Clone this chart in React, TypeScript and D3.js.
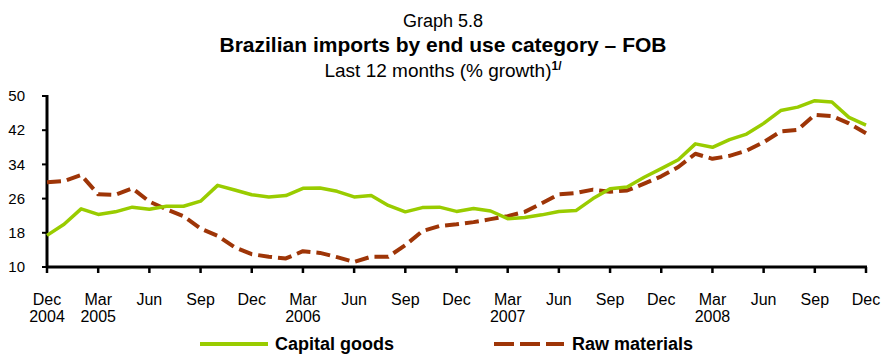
import React from "react";
import * as d3 from "d3";

const months: string[] = [];
{
  const names = ["Jan","Feb","Mar","Apr","May","Jun","Jul","Aug","Sep","Oct","Nov","Dec"];
  // Dec 2004 .. Dec 2008
  for (let i = 0; i < 49; i++) {
    const m = (11 + i) % 12;
    const y = 2004 + Math.floor((11 + i) / 12);
    months.push(`${names[m]} ${y}`);
  }
}

const capitalGoods = [
  17.4, 20.0, 23.6, 22.3, 22.9, 24.0, 23.5, 24.2, 24.2, 25.4, 29.1, 28.0,
  26.9, 26.4, 26.7, 28.4, 28.5, 27.7, 26.4, 26.7, 24.4, 22.9, 23.9, 24.0,
  23.0, 23.7, 23.1, 21.3, 21.6, 22.2, 23.0, 23.2, 26.0, 28.3, 28.7, 31.0,
  33.0, 35.1, 38.8, 38.0, 39.8, 41.1, 43.6, 46.6, 47.4, 48.9, 48.6, 45.0,
  43.2,
];

const rawMaterials = [
  29.8, 30.1, 31.5, 27.0, 26.9, 28.4, 25.3, 23.5, 21.9, 19.0, 17.3, 14.6,
  13.0, 12.4, 12.0, 13.7, 13.3, 12.3, 11.2, 12.4, 12.4, 15.1, 18.4, 19.6,
  20.0, 20.5, 21.2, 21.9, 22.9, 24.9, 27.0, 27.3, 28.1, 27.6, 27.9, 29.5,
  31.2, 33.4, 36.5, 35.3, 36.0, 37.2, 39.2, 41.7, 42.1, 45.6, 45.3, 43.6,
  41.3,
];

const yTicks = [10, 18, 26, 34, 42, 50];
const xTickLabels: [string, string][] = [
  ["Dec", "2004"], ["Mar", "2005"], ["Jun", ""], ["Sep", ""],
  ["Dec", ""], ["Mar", "2006"], ["Jun", ""], ["Sep", ""],
  ["Dec", ""], ["Mar", "2007"], ["Jun", ""], ["Sep", ""],
  ["Dec", ""], ["Mar", "2008"], ["Jun", ""], ["Sep", ""],
  ["Dec", ""],
];

const GREEN = "#99CC00";
const BROWN = "#9E3507";
const FONT = "'Liberation Sans', Arial, sans-serif";

export default function App() {
  const W = 882, H = 355;
  const x0 = 47, x1 = 866, yTop = 96, yBot = 267;
  const x = d3.scaleLinear().domain([0, months.length - 1]).range([x0, x1]);
  const y = d3.scaleLinear().domain([10, 50]).range([yBot, yTop]);
  const line = d3.line<number>().x((_, i) => x(i)).y((d) => y(d));

  return (
    <svg width={W} height={H} style={{ position: "absolute", left: 0, top: 0 }} fontFamily={FONT}>
      <rect width={W} height={H} fill="#fff" />
      <text x={443} y={27} textAnchor="middle" fontSize={18}>Graph 5.8</text>
      <text x={443} y={52} textAnchor="middle" fontSize={21} fontWeight="bold">
        Brazilian imports by end use category – FOB
      </text>
      <text x={443} y={77} textAnchor="middle" fontSize={19}>
        Last 12 months (% growth)
        <tspan fontSize={12} fontWeight="bold" dy={-7}>1/</tspan>
      </text>

      {/* y axis */}
      {yTicks.map((t) => (
        <g key={t}>
          <line x1={x0 - 5} x2={x0} y1={y(t)} y2={y(t)} stroke="#000" strokeWidth={2} />
          <text x={25} y={y(t)} dy="0.35em" textAnchor="end" fontSize={15}>{t}</text>
        </g>
      ))}
      <line x1={x0} x2={x0} y1={yTop - 1} y2={yBot + 1} stroke="#000" strokeWidth={3} />

      {/* x axis */}
      <line x1={x0 - 1} x2={x1 + 1} y1={yBot} y2={yBot} stroke="#000" strokeWidth={3} />
      {xTickLabels.map((lab, k) => {
        const xi = x(k * 3);
        return (
          <g key={k}>
            <line x1={xi} x2={xi} y1={yBot} y2={yBot + 6} stroke="#000" strokeWidth={2.5} />
            <text x={xi} y={305} textAnchor="middle" fontSize={16}>{lab[0]}</text>
            {lab[1] && <text x={xi} y={322} textAnchor="middle" fontSize={16}>{lab[1]}</text>}
          </g>
        );
      })}

      {/* series */}
      <path d={line(rawMaterials) || ""} fill="none" stroke={BROWN} strokeWidth={4} strokeDasharray="14,6" strokeLinejoin="round" />
      <path d={line(capitalGoods) || ""} fill="none" stroke={GREEN} strokeWidth={3.5} strokeLinejoin="round" />

      {/* legend */}
      <line x1={200} x2={268} y1={344} y2={344} stroke={GREEN} strokeWidth={4} />
      <text x={275} y={350} fontSize={18} fontWeight="bold">Capital goods</text>
      <line x1={494} x2={564} y1={344} y2={344} stroke={BROWN} strokeWidth={4} strokeDasharray="20,6" />
      <text x={572} y={350} fontSize={18} fontWeight="bold">Raw materials</text>
    </svg>
  );
}
